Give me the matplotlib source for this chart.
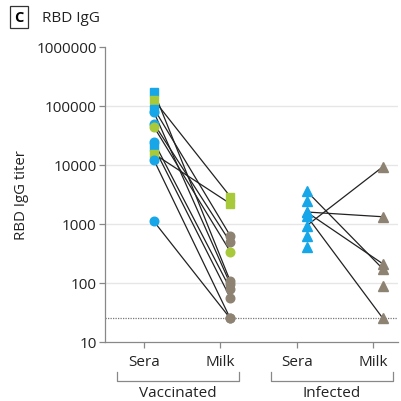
import numpy as np
import matplotlib
matplotlib.use("Agg")
import matplotlib.pyplot as plt

plt.rcParams['font.family'] = ['Open Sans', 'DejaVu Sans']

# Categories / tick labels
groups = ['Vaccinated', 'Infected']
tick_labels = ['Sera', 'Milk', 'Sera', 'Milk']

# Vaccinated pairs (sera -> milk)
vacc_sera = [173000, 126000, 90000, 78000, 50000, 44000, 24500, 20000, 15400, 12100, 1100]
vacc_milk = [107, 2900, 630, 96, 490, 340, 79, 56, 2200, 25, 25]
vacc_sera_color = ['blue', 'green', 'blue', 'blue', 'blue', 'green', 'blue', 'blue', 'green', 'blue', 'blue']
vacc_sera_marker = ['s', 's', 's', 'o', 'o', 'o', 'o', 's', 's', 'o', 'o']
vacc_milk_color = ['gray', 'green', 'gray', 'gray', 'gray', 'green', 'gray', 'gray', 'green', 'gray', 'gray']
vacc_milk_marker = ['o', 's', 'o', 'o', 'o', 'o', 'o', 'o', 's', 'o', 'o']

# Infected: paired and unpaired samples
inf_sera_paired = [3600, 1590, 1590, 1370, 930]
inf_milk_paired = [172, 1320, 210, 25, 9300]
inf_sera_extra = [2450, 630, 410]
inf_milk_extra = [89]

lod = 25

palette = {'blue': '#17a6e8', 'green': '#a8c93a', 'gray': '#8e8372'}

fig = plt.figure(figsize=(4.01, 4.02), dpi=100)
ax = fig.add_axes([0.262, 0.147, 0.731, 0.734])

xs = [0, 1, 2, 3]
off = 0.13

# dotted limit of detection
ax.axhline(lod, color='#777777', lw=0.9, ls=(0, (1, 1)), zorder=1)

# vaccinated lines + markers
for s, m in zip(vacc_sera, vacc_milk):
    ax.plot([xs[0] + off, xs[1] + off], [s, m], color='#222222', lw=0.9, zorder=2)
for s, c, mk in zip(vacc_sera, vacc_sera_color, vacc_sera_marker):
    ax.plot(xs[0] + off, s, marker=mk, ms=6.2, color=palette[c], ls='none', zorder=3)
for m, c, mk in zip(vacc_milk, vacc_milk_color, vacc_milk_marker):
    ax.plot(xs[1] + off, m, marker=mk, ms=6.2, color=palette[c], ls='none', zorder=3)

# infected lines + markers
for s, m in zip(inf_sera_paired, inf_milk_paired):
    ax.plot([xs[2] + off, xs[3] + off], [s, m], color='#222222', lw=0.9, zorder=2)
for s in inf_sera_paired + inf_sera_extra:
    ax.plot(xs[2] + off, s, marker='^', ms=6.5, color=palette['blue'], ls='none', zorder=3)
for m in inf_milk_paired + inf_milk_extra:
    ax.plot(xs[3] + off, m, marker='^', ms=6.5, color=palette['gray'], ls='none', zorder=3)

ax.set_yscale('log')
ax.set_ylim(10, 1e6)
ax.set_xlim(-0.51, 3.33)
yt = [10, 100, 1000, 10000, 100000, 1000000]
ax.set_yticks(yt)
ax.set_yticklabels([str(v) for v in yt])
ax.yaxis.set_minor_locator(matplotlib.ticker.NullLocator())
ax.set_xticks(xs)
ax.set_xticklabels(tick_labels)
for v in yt[1:-1]:
    ax.axhline(v, color='#e6e6e6', lw=1.0, zorder=0)

for sp in ['top', 'right']:
    ax.spines[sp].set_visible(False)
for sp in ['left', 'bottom']:
    ax.spines[sp].set_color('#888888')
    ax.spines[sp].set_linewidth(0.9)
ax.tick_params(colors='#888888', labelcolor='#222222', labelsize=11, length=4, width=0.9)
ax.tick_params(axis='x', pad=5)
ax.tick_params(axis='y', pad=2)
ax.set_ylabel('RBD IgG titer', fontsize=10.8, color='#222222', labelpad=5)

# group brackets
trans = matplotlib.transforms.blended_transform_factory(ax.transData, fig.transFigure)
for (a, b), name in zip([(-0.36, 1.25), (1.66, 3.26)], groups):
    ax.plot([a, a, b, b], [0.073, 0.050, 0.050, 0.073], color='#888888', lw=0.9,
            transform=trans, clip_on=False)
    fig.text((a + b) / 2, 0.022, name, transform=trans, ha='center', va='center',
             fontsize=11, color='#222222')

# panel label
fig.text(0.047, 0.955, 'C', ha='center', va='center', fontsize=10.5, fontweight='bold',
         bbox=dict(boxstyle='square,pad=0.3', fc='white', ec='#333333', lw=0.9))
fig.text(0.105, 0.955, 'RBD IgG', ha='left', va='center', fontsize=11, color='#222222')

fig.savefig('out.png', dpi=100)
